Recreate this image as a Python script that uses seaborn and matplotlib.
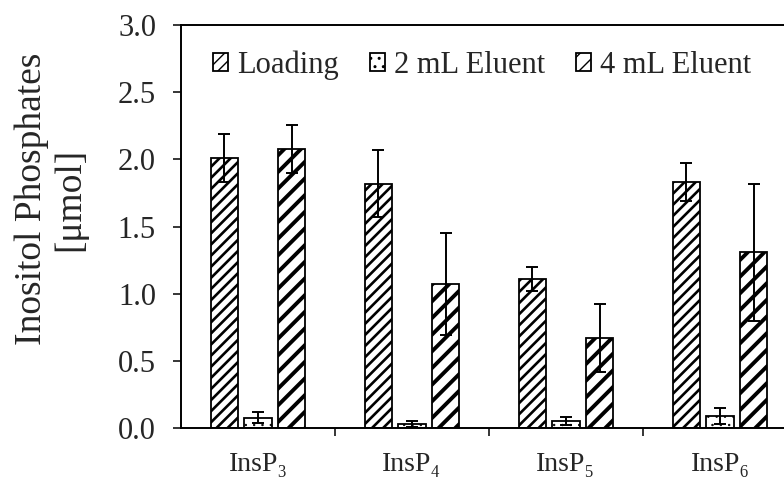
import numpy as np
import pandas as pd
import matplotlib
matplotlib.use("Agg")
import matplotlib.pyplot as plt
import seaborn as sns

categories = ["InsP3", "InsP4", "InsP5", "InsP6"]
tick_labels = ["InsP₃", "InsP₄", "InsP₅", "InsP₆"]
series = ["Loading", "2 mL Eluent", "4 mL Eluent"]
loading = [2.01, 1.82, 1.11, 1.83]
loading_err = [0.18, 0.25, 0.09, 0.14]
eluent2 = [0.077, 0.03, 0.05, 0.089]
eluent2_err = [0.04, 0.02, 0.03, 0.06]
eluent4 = [2.075, 1.07, 0.67, 1.31]
eluent4_err = [0.18, 0.38, 0.25, 0.51]
yticks = [0.0, 0.5, 1.0, 1.5, 2.0, 2.5, 3.0]

sns.set_theme(style="white")
plt.rcParams["font.family"] = ["Liberation Serif", "DejaVu Serif"]
plt.rcParams["hatch.color"] = "black"
plt.rcParams["hatch.linewidth"] = 1.0

rows = []
for s, vals, errs in [(series[0], loading, loading_err), (series[1], eluent2, eluent2_err), (series[2], eluent4, eluent4_err)]:
    for c, v, e in zip(categories, vals, errs):
        rows.append({"cat": c, "series": s, "value": v, "err": e})
df = pd.DataFrame(rows)

fig = plt.figure(figsize=(7.84, 4.8), dpi=100)
ax = fig.add_axes([181/784, 1 - 428/480, 616/784, 403/480])

sns.barplot(data=df, x="cat", y="value", hue="series", order=categories, hue_order=series,
            palette=["white"] * 3, errorbar=None, width=0.66, gap=0.2, ax=ax,
            edgecolor="black", linewidth=1.3, legend=True)

hatches = {"Loading": "///", "2 mL Eluent": "..", "4 mL Eluent": "//"}
hlw = {"Loading": 1.9, "2 mL Eluent": 0.5, "4 mL Eluent": 2.8}
for container, s in zip(ax.containers, series):
    sub = df[df["series"] == s].set_index("cat").loc[categories]
    for patch, v, e in zip(container.patches, sub["value"], sub["err"]):
        patch.set_hatch(hatches[s])
        if hasattr(patch, "set_hatch_linewidth"):
            patch.set_hatch_linewidth(hlw[s])
        cx = patch.get_x() + patch.get_width() / 2
        ax.errorbar(cx, v, yerr=e, fmt="none", ecolor="black", elinewidth=1.4,
                    capsize=4.5, capthick=1.4, zorder=5)

ax.set_ylim(0, 3.0)
ax.set_xlim(-0.5, 3.5)
ax.set_yticks(yticks)
ax.set_yticklabels([f"{t:.1f}" for t in yticks], fontsize=22)
ax.set_xticks([0.5, 1.5, 2.5])
ax.set_xticklabels([])
ax.set_xticks(range(4), minor=True)
ax.set_xticklabels(tick_labels, minor=True, fontsize=20)
ax.tick_params(axis="x", which="major", direction="out", length=6, width=1.3, bottom=True)
ax.tick_params(axis="x", which="minor", length=0, pad=17)
ax.tick_params(axis="y", direction="out", length=6, width=1.3, left=True, pad=12)
ax.set_xlabel("")
ax.set_ylabel("")
fig.text(51/784, 1 - 199/480, "Inositol Phosphates\n[μmol]", rotation=90, ha="center", va="center",
         multialignment="center", fontsize=27, linespacing=1.12)
for sp in ["left", "bottom", "top", "right"]:
    ax.spines[sp].set_color("black")
    ax.spines[sp].set_linewidth(1.4)

handles, labels = ax.get_legend_handles_labels()
for h, s in zip(handles, series):
    h.set_hatch(hatches[s])
    h.set_edgecolor("black")
    h.set_facecolor("white")
    if hasattr(h, "set_hatch_linewidth"):
        h.set_hatch_linewidth(hlw[s])
leg = ax.legend(handles, labels, loc="center left", bbox_to_anchor=(213/784, 1 - 65/480),
                bbox_transform=fig.transFigure, ncol=3, frameon=False, borderpad=0, borderaxespad=0,
                fontsize=22, handlelength=0.5, handleheight=0.5, handletextpad=0.3, columnspacing=1.0)

fig.savefig("out.png", dpi=100)
